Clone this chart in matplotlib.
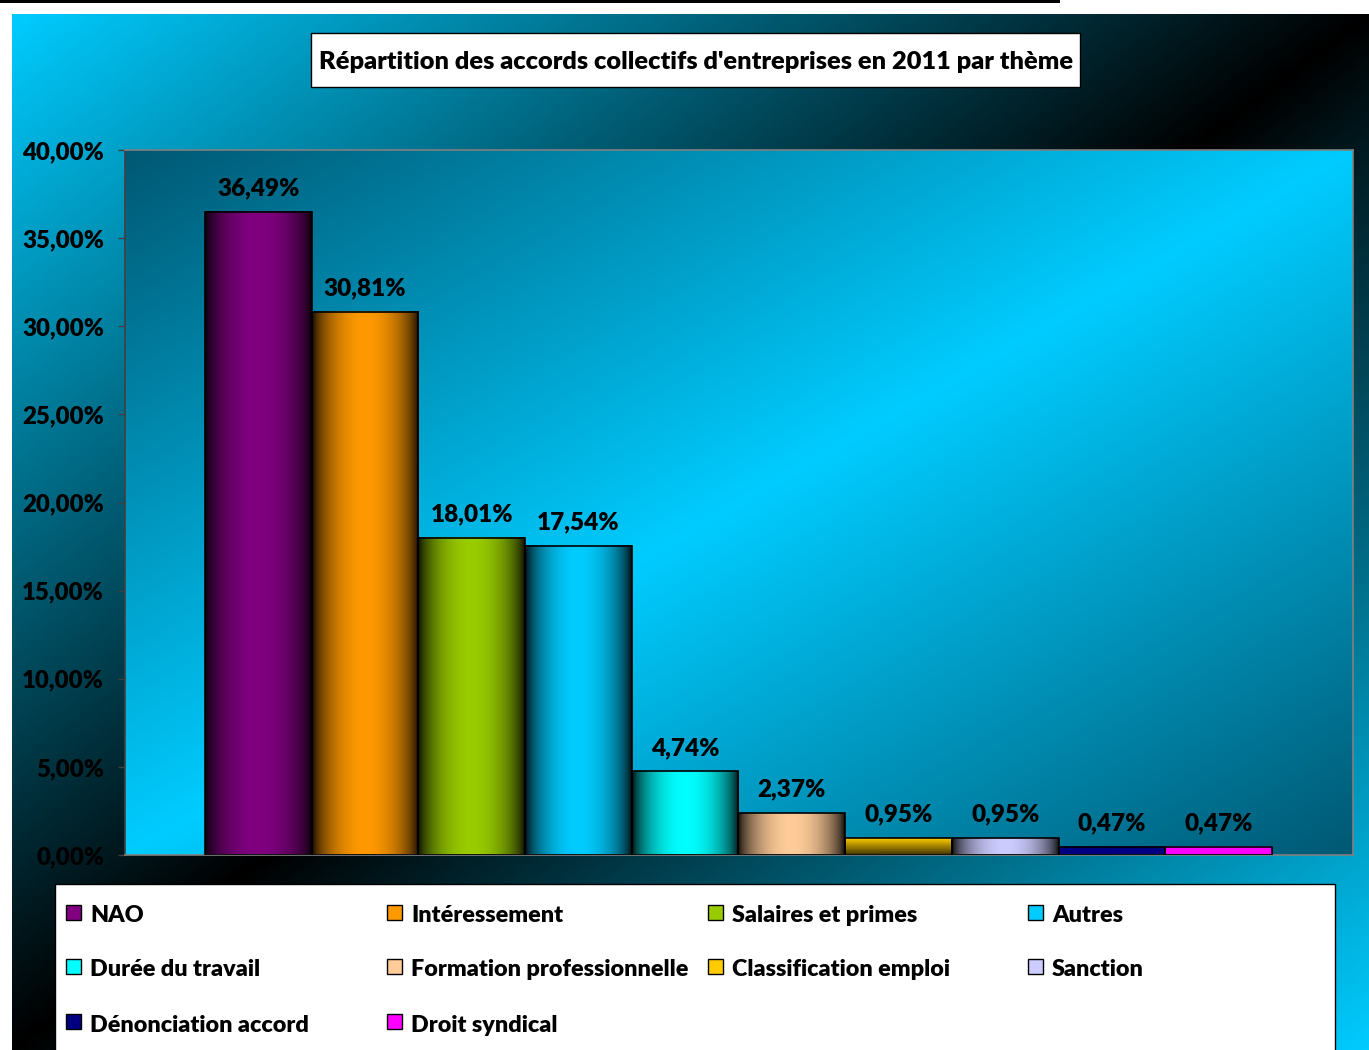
import numpy as np
import matplotlib

matplotlib.use("Agg")
import matplotlib.pyplot as plt
from matplotlib.patches import Rectangle
from matplotlib.ticker import FuncFormatter

plt.rcParams["font.family"] = ["Lato", "DejaVu Sans"]
plt.rcParams["font.weight"] = "heavy"

# data
themes = [
    "NAO", "Intéressement", "Salaires et primes", "Autres", "Durée du travail",
    "Formation professionnelle", "Classification emploi", "Sanction",
    "Dénonciation accord", "Droit syndical",
]
shares = [36.49, 30.81, 18.01, 17.54, 4.74, 2.37, 0.95, 0.95, 0.47, 0.47]
colors = ["#800080", "#FF9900", "#99CC00", "#00CCFF", "#00FFFF",
          "#FFCC99", "#FFCC00", "#CCCCFF", "#000080", "#FF00FF"]
shading = ["h", "h", "h", "h", "h", "h", "v", "h", "flat", "flat"]
yticks = [0, 5, 10, 15, 20, 25, 30, 35, 40]
title = "Répartition des accords collectifs d'entreprises en 2011 par thème"

W, H = 1369, 1050
CYAN = np.array([0, 204, 255]) / 255
DARK = np.array([0, 88, 115]) / 255
WEIGHT = "heavy"


def fx(x):
    return x / W


def fy(y):
    return 1 - y / H


def diag_weight(nx, ny):
    yy, xx = np.mgrid[0:ny, 0:nx]
    u = xx / (nx - 1) + yy / (ny - 1)
    return 1 - np.abs(u - 1)


fig = plt.figure(figsize=(W / 100, H / 100), dpi=100, facecolor="white")

# outer chart background: cyan corners, black along the anti-diagonal
bg = fig.add_axes([fx(12), 0, fx(W - 12), (H - 14) / H], zorder=-10)
t = diag_weight(400, 300)[..., None]
bg.imshow(CYAN * (1 - t), aspect="auto", origin="upper", extent=[0, 1, 0, 1])
bg.set_axis_off()

fig.add_artist(Rectangle((0, fy(3)), fx(1060), 3 / H, transform=fig.transFigure,
                         facecolor="black", edgecolor="none"))

# title box
fig.add_artist(Rectangle((fx(311), fy(87)), fx(1080 - 311), 54 / H, transform=fig.transFigure,
                         facecolor="white", edgecolor="black", linewidth=1))
fig.text(fx(696), fy(62), title, ha="center", va="center", fontsize=18.3, fontweight=WEIGHT)

# plot area
ax = fig.add_axes([fx(125), fy(855), fx(1353 - 125), (855 - 150) / H])
ax.imshow(DARK * (1 - t) + CYAN * t, aspect="auto", origin="upper",
          extent=[0, 1, 0, 1], transform=ax.transAxes, zorder=0)

x = np.arange(len(shares))
bars = ax.bar(x, shares, width=1.0, color="none", edgecolor="black", linewidth=1.2, zorder=3)

prof = np.linspace(0, 1, 200)
hprof = np.clip(np.sin(np.pi * prof) ** 0.6, 0.12, 1)
for patch, col, kind in zip(bars, colors, shading):
    base = np.array(matplotlib.colors.to_rgb(col))
    x0, h, w = patch.get_x(), patch.get_height(), patch.get_width()
    if kind == "h":
        img = (base[None, :] * hprof[:, None])[None, :, :]
    elif kind == "v":
        img = (base[None, :] * np.linspace(1, 0.25, 50)[:, None])[:, None, :]
    else:
        img = base[None, None, :]
    ax.imshow(img, aspect="auto", origin="upper", extent=[x0, x0 + w, 0, h], zorder=2)
    ax.annotate(f"{h:.2f}%".replace(".", ","), (x0 + w / 2, h), xytext=(0, 9),
                textcoords="offset points", ha="center", va="bottom",
                fontsize=17.5, fontweight=WEIGHT)

ax.set_xlim(-1.25, len(shares) - 1 + 1.26)
ax.set_ylim(0, 40)
ax.set_yticks(yticks)
ax.yaxis.set_major_formatter(FuncFormatter(lambda v, _: f"{v:.2f}%".replace(".", ",")))
ax.tick_params(axis="y", length=5, width=1, color="#404040", pad=10, labelsize=17.3)
ax.set_xticks([])
for s in ax.spines.values():
    s.set_color("#808080")
    s.set_linewidth(1.2)
ax.spines["left"].set_color("#404040")

# legend box (bottom edge runs off the picture)
fig.add_artist(Rectangle((fx(55), -0.01), fx(1335 - 55), fy(884) + 0.01, transform=fig.transFigure,
                         facecolor="white", edgecolor="black", linewidth=1))
col_x = [66, 387, 708, 1028]
row_y = [915, 969, 1024]
for i, (name, col) in enumerate(zip(themes, colors)):
    cx, ry = col_x[i % 4], row_y[i // 4]
    fig.add_artist(Rectangle((fx(cx), fy(ry + 5)), fx(15), 15 / H, transform=fig.transFigure,
                             facecolor=col, edgecolor="black", linewidth=1))
    fig.text(fx(cx + 24), fy(ry + 1), name, ha="left", va="center", fontsize=16.8, fontweight=WEIGHT)

fig.savefig("out.png", dpi=100)
